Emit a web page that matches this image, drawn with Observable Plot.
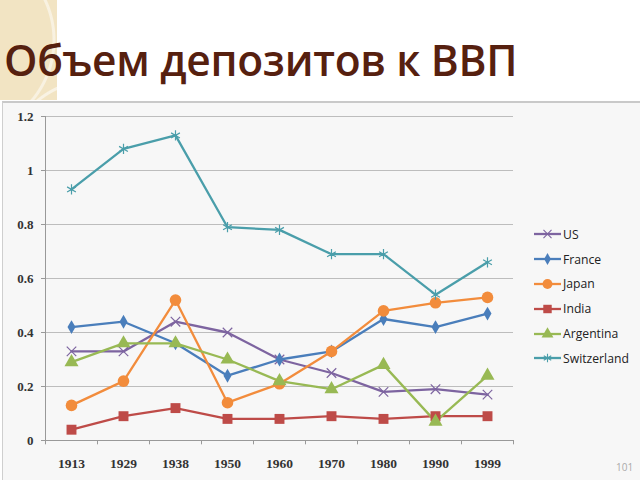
<!DOCTYPE html>
<html>
<head>
<meta charset="utf-8">
<script src="https://cdn.jsdelivr.net/npm/d3@7"></script>
<script src="https://cdn.jsdelivr.net/npm/@observablehq/plot@0.6"></script>
<style>
  html, body { margin: 0; padding: 0; background: #ffffff; }
  #page { position: relative; width: 640px; height: 480px; overflow: hidden; background: #ffffff; }
  #deco { position: absolute; left: 0; top: 0; width: 57px; height: 100px;
    background:
      radial-gradient(circle at 95px 170px, transparent 0 88px, rgba(255,255,255,0.55) 89px 91px, transparent 92px),
      radial-gradient(circle at -40px 40px, transparent 0 92px, rgba(255,255,255,0.5) 93px 95px, transparent 96px),
      #f2e4c3; }
  #title { position: absolute; left: 4px; top: 31px; font-family: "Open Sans", sans-serif; font-weight: 600;
    font-size: 42.5px; color: #56200f; white-space: nowrap; letter-spacing: -0.3px; }
  #panel { position: absolute; left: 2px; top: 101px; width: 638px; height: 379px; background: #f7f7f7;
    border-top: 2px solid #c9c9c9; border-left: 1px solid #cfcfcf; box-sizing: border-box; }
  #chart { position: absolute; left: 0; top: 102px; }
  #legend { position: absolute; left: 533px; top: 222px; font-family: "Open Sans", sans-serif; font-size: 12.2px; color: #222; }
  .li { display: flex; align-items: center; height: 24.8px; }
  .li svg { margin-right: 1px; }
  #pnum { position: absolute; left: 616px; top: 460px; font-family: "Open Sans", sans-serif; font-size: 10px; color: #aaaaaa; }
</style>
</head>
<body>
<div id="page">
  <div id="deco"></div>
  <div id="title">Объем депозитов к ВВП</div>
  <div id="panel"></div>
  <div id="chart"></div>
  <div id="legend"></div>
  <div id="pnum">101</div>
</div>
<script>
const years = ["1913","1929","1938","1950","1960","1970","1980","1990","1999"];
const countries = ["US","France","Japan","India","Argentina","Switzerland"];
const us          = [0.33, 0.33, 0.44, 0.40, 0.30, 0.25, 0.18, 0.19, 0.17];
const france      = [0.42, 0.44, 0.36, 0.24, 0.30, 0.33, 0.45, 0.42, 0.47];
const japan       = [0.13, 0.22, 0.52, 0.14, 0.21, 0.33, 0.48, 0.51, 0.53];
const india       = [0.04, 0.09, 0.12, 0.08, 0.08, 0.09, 0.08, 0.09, 0.09];
const argentina   = [0.29, 0.36, 0.36, 0.30, 0.22, 0.19, 0.28, 0.07, 0.24];
const switzerland = [0.93, 1.08, 1.13, 0.79, 0.78, 0.69, 0.69, 0.54, 0.66];
const yTicks = [0, 0.2, 0.4, 0.6, 0.8, 1, 1.2];

const seriesValues = [us, france, japan, india, argentina, switzerland];
const colors  = ["#7d64a0", "#4a7ebb", "#f28c3c", "#be4b48", "#98b954", "#4a9eaa"];
const symbols = ["times", "diamond", "circle", "square", "triangle", "asterisk"];
const radii   = [4.4, 4.2, 5.8, 5.6, 5.2, 4.8];
const filled  = [false, true, true, true, true, false];

const rows = countries.flatMap((c, i) => years.map((y, j) => ({country: c, year: y, value: seriesValues[i][j]})));

const marks = [
  Plot.ruleY(yTicks.filter(t => t > 0), {stroke: "#bdbdbd", strokeWidth: 1}),
  Plot.axisY({ticks: yTicks, tickSize: 4, tickPadding: 8, tickFormat: d => String(+d.toFixed(1)),
    fontFamily: "Liberation Serif, serif", fontSize: 13, fontWeight: "bold", fill: "#333", stroke: "#999", label: null}),
  Plot.ruleX([0], {x: () => years[0], y1: 0, y2: 1.2, dx: -26, stroke: "#999"}),
  Plot.ruleY([0], {stroke: "#999"}),
  Plot.ruleX(years, {x: d => d, y1: 0, y2: -0.016, dx: -26, stroke: "#999"}),
  Plot.ruleX([years[years.length - 1]], {x: d => d, y1: 0, y2: -0.016, dx: 26, stroke: "#999"}),
  Plot.axisX({tickSize: 0, tickPadding: 18, fontFamily: "Liberation Serif, serif", fontSize: 13.5, fontWeight: "bold", fill: "#333", label: null}),
  ...countries.map((c, i) => Plot.line(rows.filter(d => d.country === c), {x: "year", y: "value", stroke: colors[i], strokeWidth: 2.3})),
  ...countries.map((c, i) => Plot.dot(rows.filter(d => d.country === c), {
    x: "year", y: "value", symbol: symbols[i], r: radii[i],
    fill: filled[i] ? colors[i] : "none",
    stroke: filled[i] ? "none" : colors[i], strokeWidth: 1.2
  }))
];

const chart = Plot.plot({
  width: 640, height: 378,
  marginLeft: 45, marginRight: 127, marginTop: 14, marginBottom: 40,
  style: {background: "transparent", overflow: "visible"},
  x: {type: "point", domain: years, padding: 0.5, axis: null},
  y: {domain: [0, 1.2], axis: null},
  marks
});
document.getElementById("chart").appendChild(chart);

// legend
const legend = d3.select("#legend");
const symMap = {times: d3.symbolTimes, diamond: d3.symbolDiamond, circle: d3.symbolCircle, square: d3.symbolSquare, triangle: d3.symbolTriangle, asterisk: d3.symbolAsterisk};
countries.forEach((c, i) => {
  const item = legend.append("div").attr("class", "li");
  const svg = item.append("svg").attr("width", 29).attr("height", 14);
  svg.append("line").attr("x1", 1).attr("x2", 28).attr("y1", 7).attr("y2", 7).attr("stroke", colors[i]).attr("stroke-width", 2.3);
  const r = radii[i] * 0.85;
  svg.append("path").attr("transform", "translate(14.5,7)")
    .attr("d", d3.symbol(symMap[symbols[i]], Math.PI * r * r)())
    .attr("fill", filled[i] ? colors[i] : "none")
    .attr("stroke", filled[i] ? "none" : colors[i]).attr("stroke-width", 1.1);
  item.append("span").text(c);
});
</script>
</body>
</html>
